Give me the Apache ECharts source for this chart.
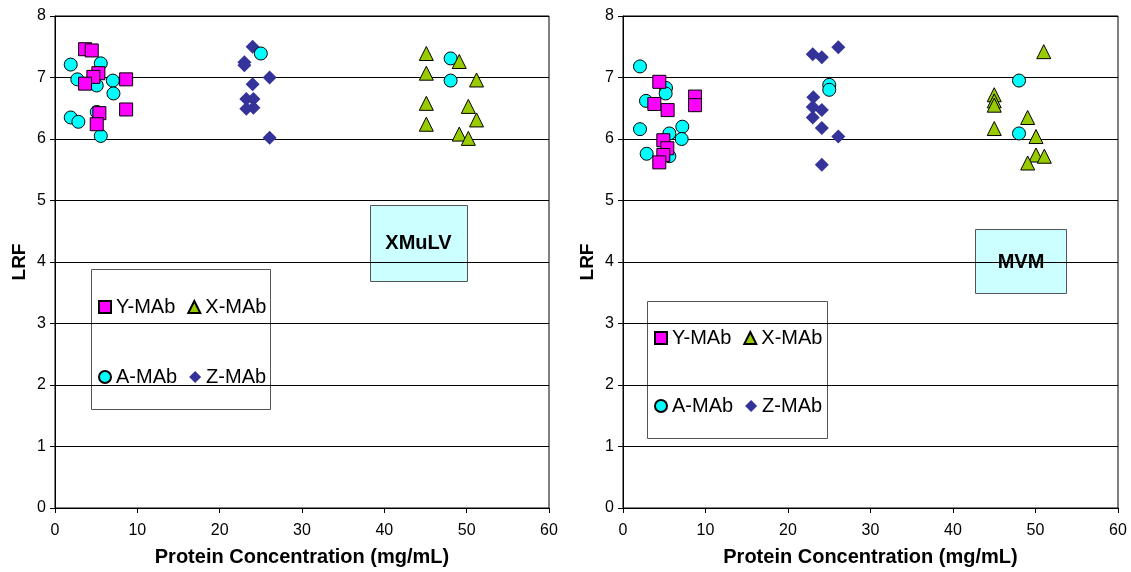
<!DOCTYPE html>
<html>
<head>
<meta charset="utf-8">
<script src="https://cdn.jsdelivr.net/npm/echarts@6/dist/echarts.min.js"></script>
<style>html,body{margin:0;padding:0;background:#fff}#c{width:1131px;height:572px}</style>
</head>
<body>
<div id="c"></div>
<script>
// ---- Data (x = protein concentration mg/mL, y = LRF) ----
const xmulvY = [[3.65,7.46],[4.46,7.44],[5.27,7.07],[4.66,7.01],[3.65,6.9],[8.64,6.97],[8.64,6.48],[5.39,6.42],[5.07,6.24]];
const xmulvA = [[1.91,7.21],[5.56,7.23],[2.71,6.97],[5.07,6.87],[7.02,6.95],[7.1,6.74],[1.91,6.35],[2.84,6.28],[5.07,6.44],[5.56,6.05],[25.0,7.39],[48.05,7.31],[48.05,6.95]];
const xmulvZ = [[24.0,7.5],[23.0,7.25],[23.0,7.2],[26.07,7.0],[24.0,6.89],[23.24,6.65],[24.1,6.65],[23.24,6.49],[24.1,6.51],[26.07,6.02]];
const xmulvX = [[45.1,7.39],[49.1,7.26],[45.1,7.07],[51.2,6.96],[45.1,6.58],[50.2,6.53],[51.2,6.31],[45.1,6.24],[49.1,6.08],[50.2,6.01]];

const mvmY = [[4.4,6.93],[3.8,6.57],[5.41,6.47],[8.73,6.69],[8.73,6.55],[4.89,5.98],[5.37,5.85],[4.89,5.74],[4.4,5.62]];
const mvmA = [[2.06,7.18],[5.21,6.83],[5.17,6.74],[2.79,6.62],[2.06,6.16],[7.19,6.2],[5.62,6.09],[7.11,6.0],[2.87,5.76],[5.62,5.72],[25.0,6.88],[25.0,6.8],[48.0,6.95],[48.0,6.09]];
const mvmZ = [[23.0,7.38],[24.1,7.33],[26.1,7.49],[23.07,6.68],[23.0,6.52],[24.1,6.47],[23.0,6.35],[24.1,6.18],[26.1,6.04],[24.1,5.58]];
const mvmX = [[51.0,7.42],[45.0,6.72],[45.0,6.62],[45.0,6.55],[49.05,6.35],[45.0,6.17],[50.06,6.04],[50.06,5.74],[51.07,5.72],[49.05,5.61]];

const seriesNames = ['Y-MAb','X-MAb','A-MAb','Z-MAb'];
const panelLabels = ['XMuLV','MVM'];
const xTitle = 'Protein Concentration (mg/mL)';
const yTitle = 'LRF';

// ---- Styles ----
const FONT = "'Liberation Sans', Arial, sans-serif";
const styles = {
  'Y-MAb': {symbol:'rect', color:'#FF00FF', borderColor:'#000', borderWidth:1},
  'X-MAb': {symbol:'triangle', color:'#99CC00', borderColor:'#000', borderWidth:1},
  'A-MAb': {symbol:'circle', color:'#00FFFF', borderColor:'#000', borderWidth:1},
  'Z-MAb': {symbol:'diamond', color:'#333399', borderColor:'#333399', borderWidth:0}
};
const panels = [
  {'Y-MAb':xmulvY,'X-MAb':xmulvX,'A-MAb':xmulvA,'Z-MAb':xmulvZ},
  {'Y-MAb':mvmY,'X-MAb':mvmX,'A-MAb':mvmA,'Z-MAb':mvmZ}
];

function mkX(i){
  return {gridIndex:i, type:'value', min:0, max:60, interval:10,
    name:xTitle, nameLocation:'middle', nameGap:39,
    nameTextStyle:{fontFamily:FONT, fontWeight:'bold', fontSize:20, color:'#000'},
    axisLine:{onZero:false, lineStyle:{color:'#000', width:1}},
    axisTick:{show:true, inside:false, length:5, lineStyle:{color:'#000'}},
    axisLabel:{fontFamily:FONT, fontSize:16, color:'#000', margin:15},
    splitLine:{show:false}};
}
function mkY(i){
  return {gridIndex:i, type:'value', min:0, max:8, interval:1,
    name:yTitle, nameLocation:'middle', nameGap:26,
    nameTextStyle:{fontFamily:FONT, fontWeight:'bold', fontSize:19, color:'#000'},
    axisLine:{show:true, lineStyle:{color:'#000', width:1}},
    axisTick:{show:true, inside:false, length:5, lineStyle:{color:'#000'}},
    axisLabel:{fontFamily:FONT, fontSize:16, color:'#000', margin:9},
    splitLine:{show:true, lineStyle:{color:'#000', width:1}}};
}

const series = [];
const order = ['Z-MAb','A-MAb','X-MAb','Y-MAb'];
panels.forEach((p,i)=>{
  order.forEach(n=>{
    const s = styles[n];
    series.push({name:n, type:'scatter', xAxisIndex:i, yAxisIndex:i,
      symbol:s.symbol, symbolSize: n==='Z-MAb'?14:(n==='X-MAb'?14:13),
      itemStyle:{color:s.color, borderColor:s.borderColor, borderWidth:s.borderWidth, opacity:1},
      emphasis:{disabled:true}, data:p[n]});
  });
});

const legendBase = {orient:'horizontal', itemWidth:12, itemHeight:12, itemGap:12, padding:0,
  textStyle:{fontFamily:FONT, fontSize:20, color:'#000'}, selectedMode:false};
const legendIcons = {'Y-MAb':'rect','X-MAb':'triangle','A-MAb':'circle','Z-MAb':'diamond'};
function legItems(arr){return arr.map(n=>({name:n, icon:legendIcons[n]}));}

const option = {
  backgroundColor:'#fff',
  animation:false,
  grid:[
    {left:55, right:582, top:16, bottom:64, show:true, borderColor:'#000', borderWidth:1, backgroundColor:'transparent'},
    {left:623, right:13, top:16, bottom:64, show:true, borderColor:'#000', borderWidth:1, backgroundColor:'transparent'}
  ],
  xAxis:[mkX(0), mkX(1)],
  yAxis:[mkY(0), mkY(1)],
  legend:[
    Object.assign({}, legendBase, {left:98, top:297, data:legItems(['Y-MAb','X-MAb'])}),
    Object.assign({}, legendBase, {left:98, top:367, data:legItems(['A-MAb','Z-MAb'])}),
    Object.assign({}, legendBase, {left:654, top:328, data:legItems(['Y-MAb','X-MAb'])}),
    Object.assign({}, legendBase, {left:654, top:396, data:legItems(['A-MAb','Z-MAb'])})
  ],
  graphic:[
    {type:'rect', z:-1, zlevel:0, shape:{x:91.5, y:269.5, width:179, height:140}, style:{fill:'#fff', stroke:'#555', lineWidth:1}},
    {type:'rect', z:-1, zlevel:0, shape:{x:647.5, y:301.5, width:180, height:137}, style:{fill:'#fff', stroke:'#555', lineWidth:1}},
    {type:'group', children:[
      {type:'rect', shape:{x:370.5, y:205.5, width:97, height:76}, style:{fill:'#CCFFFF', stroke:'#555', lineWidth:1}},
      {type:'text', x:418.5, y:243.5, style:{text:panelLabels[0], font:"bold 20px 'Liberation Sans', Arial, sans-serif", fill:'#000', textAlign:'center', textVerticalAlign:'middle'}}
    ]},
    {type:'group', children:[
      {type:'rect', shape:{x:975.5, y:229.5, width:91, height:64}, style:{fill:'#CCFFFF', stroke:'#555', lineWidth:1}},
      {type:'text', x:1021, y:262, style:{text:panelLabels[1], font:"bold 20px 'Liberation Sans', Arial, sans-serif", fill:'#000', textAlign:'center', textVerticalAlign:'middle'}}
    ]}
  ],
  series: series
};
const chart = echarts.init(document.getElementById('c'), null, {renderer:'canvas'});
chart.setOption(option);
</script>
</body>
</html>
